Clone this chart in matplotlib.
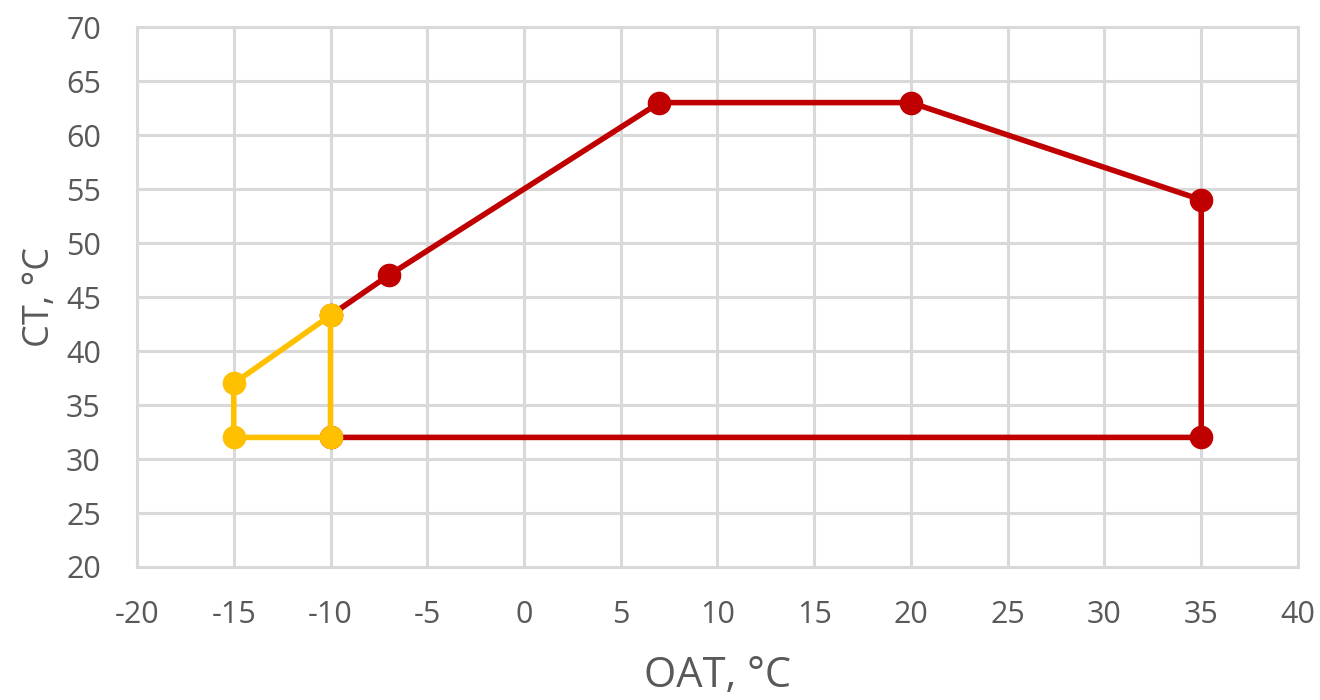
import matplotlib.pyplot as plt

# envelope data (OAT, CT)
red_x = [-10, -7, 7, 20, 35, 35, -10]
red_y = [43.3, 47, 63, 63, 54, 32, 32]
yellow_x = [-10, -15, -15, -10, -10]
yellow_y = [43.3, 37, 32, 32, 43.3]

red = '#C00000'
yellow = '#FFC000'
txt = '#595959'

plt.rcParams['font.family'] = ['Open Sans', 'DejaVu Sans']
plt.rcParams['axes.unicode_minus'] = False

fig = plt.figure(figsize=(13.2, 7), dpi=100)
ax = fig.add_axes([0.1038, 0.19, 0.8795, 0.7714])

ax.plot(red_x, red_y, color=red, lw=4, marker='o', ms=16, zorder=3)
ax.plot(yellow_x, yellow_y, color=yellow, lw=4, marker='o', ms=16, zorder=4)

ax.set_xlim(-20, 40)
ax.set_ylim(20, 70)
ax.set_xticks(range(-20, 41, 5))
ax.set_yticks(range(20, 71, 5))
ax.grid(True, color='#D9D9D9', lw=2.2)
ax.set_axisbelow(True)
for s in ax.spines.values():
    s.set_color('#D9D9D9')
    s.set_linewidth(2.2)
ax.tick_params(axis='x', length=0, labelsize=22, colors=txt, pad=24)
ax.tick_params(axis='y', length=0, labelsize=22, colors=txt, pad=26)
ax.set_xlabel('OAT, °C', fontsize=30, color=txt, labelpad=18)
ax.set_ylabel('CT, °C', fontsize=26, color=txt, labelpad=6)

fig.savefig('out.png', dpi=100)
